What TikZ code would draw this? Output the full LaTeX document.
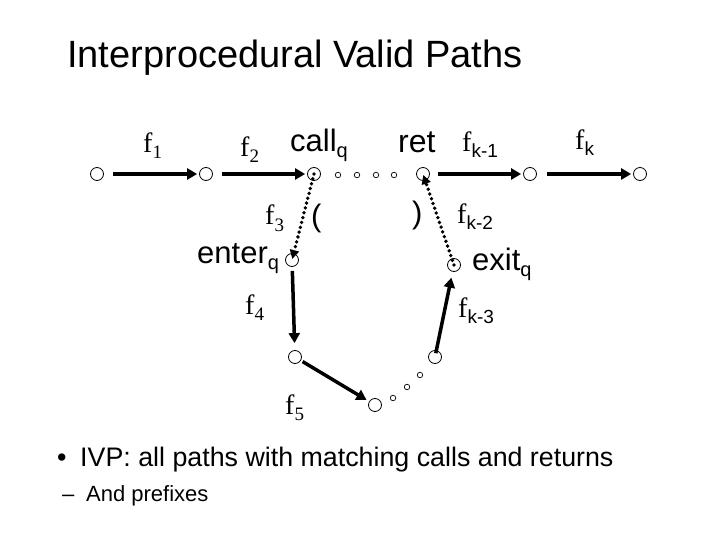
\documentclass[tikz,border=0pt]{standalone}
\usepackage{fontspec}
\setmainfont{Liberation Sans}
\newfontfamily\tms{Liberation Serif}
\usetikzlibrary{arrows.meta}

% label helpers
\newcommand\fsub[1]{{\tms\fontsize{28}{28}\selectfont f}\raisebox{-6pt}{\fontsize{19}{19}\selectfont #1}}
\newcommand\lsub[2]{{\fontsize{31}{31}\selectfont #1}\raisebox{-6pt}{\fontsize{20}{20}\selectfont #2}}

\begin{document}
\begin{tikzpicture}[
    x=1pt, y=-1pt,
    pt/.style={circle, draw, line width=0.8pt, minimum size=13pt, inner sep=0pt},
    tiny/.style={circle, draw, line width=0.7pt, minimum size=5.5pt, inner sep=0pt},
    lab/.style={anchor=base west, inner sep=0pt},
    flow/.style={line width=3.5pt, -{Triangle[length=10pt, width=11pt]}},
    link/.style={line width=3.8pt, dash pattern=on 0pt off 5pt, line cap=round, -{Triangle[length=9pt, width=9pt]}}
]
    \useasboundingbox (0,0) rectangle (720,540);

    % --- Title ---
    \node[lab, font=\fontsize{38}{38}\selectfont] (title) at (67,68) {Interprocedural Valid Paths};

    % --- Top row ---
    \node[pt] (v1) at (97,174) {};
    \node[pt] (v2) at (206,174) {};
    \node[pt] (call) at (314,174) {};
    \node[pt] (ret) at (423,174) {};
    \node[pt] (vk) at (530,174) {};
    \node[pt] (vend) at (640,174) {};

    \node[tiny] (d1) at (338,175) {};
    \node[tiny] (d2) at (357,175) {};
    \node[tiny] (d3) at (376,175) {};
    \node[tiny] (d4) at (394,175) {};

    \draw[flow, shorten <=9pt, shorten >=2pt] (v1) -- (v2);
    \draw[flow, shorten <=9pt, shorten >=2pt] (v2) -- (call);
    \draw[flow, shorten <=8pt, shorten >=2pt] (ret) -- (vk);
    \draw[flow, shorten <=10pt, shorten >=2pt] (vk) -- (vend);

    \node[lab] (lf1) at (143,153) {\fsub{\tms 1}};
    \node[lab] (lf2) at (240,157) {\fsub{\tms 2}};
    \node[lab] (lcall) at (290,152) {\lsub{call}{q}};
    \node[lab, font=\fontsize{32}{32}\selectfont] (lret) at (398,153) {ret};
    \node[lab] (lfk1) at (462,152) {\fsub{k-1}};
    \node[lab] (lfk) at (575,150) {\fsub{k}};

    % --- Callee ---
    \node[pt] (enter) at (292,260) {};
    \node[pt] (exit) at (454,265) {};
    \node[pt] (v4) at (295,357) {};
    \node[pt] (v5) at (375,405) {};
    \node[pt] (v6) at (435,357) {};

    \node[tiny] (e1) at (393,398) {};
    \node[tiny] (e2) at (407,387) {};
    \node[tiny] (e3) at (420,375) {};

    \draw[link, shorten >=1pt] (call.center) -- (enter.center);
    \draw[link, shorten >=1pt] (exit.center) -- (ret.center);

    \draw[flow, shorten <=4pt, shorten >=7pt] (enter) -- (v4);
    \draw[flow, shorten <=2pt, shorten >=3pt] (v4) -- (v5);
    \draw[flow, shorten <=-3pt, shorten >=6pt] (v6) -- (exit);

    \node[lab] (lf3) at (265,225) {\fsub{\tms 3}};
    \node[lab, font=\fontsize{31}{31}\selectfont] (lopen) at (311,226) {(};
    \node[lab] (lenter) at (197,263) {\lsub{enter}{q}};
    \node[lab, font=\fontsize{31}{31}\selectfont] (lclose) at (412,224) {)};
    \node[lab] (lfk2) at (457,223) {\fsub{k-2}};
    \node[lab] (lexit) at (472,270) {\lsub{exit}{q}};
    \node[lab] (lf4) at (245,314) {\fsub{\tms 4}};
    \node[lab] (lfk3) at (458,317) {\fsub{k-3}};
    \node[lab] (lf5) at (285,414) {\fsub{\tms 5}};

    % --- Bullets ---
    \node[lab, font=\fontsize{27}{27}\selectfont] (bul) at (57,466) {•};
    \node[lab, font=\fontsize{26.8}{27}\selectfont] (ivp) at (80,466) {IVP: all paths with matching calls and returns};
    \node[lab, font=\fontsize{22}{22}\selectfont] (dash) at (62,501) {–};
    \node[lab, font=\fontsize{22}{22}\selectfont] (pref) at (86,501) {And prefixes};
\end{tikzpicture}
\end{document}
